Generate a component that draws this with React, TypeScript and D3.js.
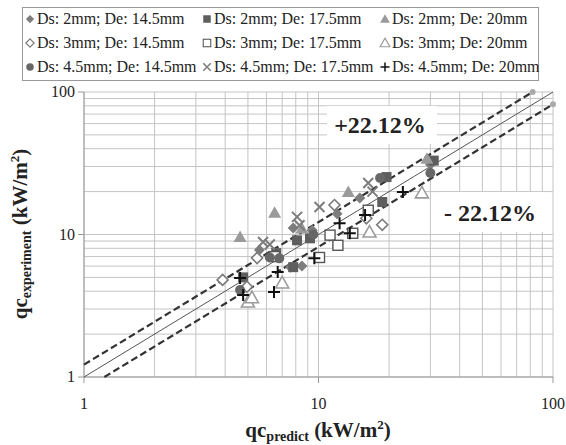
import React from "react";
import * as d3 from "d3";

// Ds / De combinations, [qc_predict, qc_experiment] in kW/m2
const seriesNames = [
	"Ds: 2mm; De: 14.5mm",
	"Ds: 2mm; De: 17.5mm",
	"Ds: 2mm; De: 20mm",
	"Ds: 3mm; De: 14.5mm",
	"Ds: 3mm; De: 17.5mm",
	"Ds: 3mm; De: 20mm",
	"Ds: 4.5mm; De: 14.5mm",
	"Ds: 4.5mm; De: 17.5mm",
	"Ds: 4.5mm; De: 20mm",
];

const ds2de145 = [[5.6, 7.8], [7.8, 11.1], [9.4, 10.7], [7.6, 5.9], [15, 18], [30, 31], [12, 14], [8.5, 6.0]];
const ds2de175 = [[4.77, 5.0], [6.6, 7.4], [7.8, 5.9], [8.1, 9.1], [9.2, 9.4], [18.7, 16.9], [19.5, 25.3], [31, 33]];
const ds2de20 = [[4.63, 9.6], [6.5, 14.2], [13.4, 19.9], [29, 34], [8.5, 11]];
const ds3de145 = [[3.9, 4.8], [4.95, 4.3], [5.47, 6.84], [11.7, 16.1], [18.7, 11.7], [16, 13]];
const ds3de175 = [[11.2, 9.9], [12.1, 8.4], [14, 10.2], [16.3, 14.8], [10.1, 6.9], [6.5, 7.0]];
const ds3de20 = [[5.0, 3.36], [7.0, 4.57], [16.5, 10.4], [27.6, 19.6], [5.2, 3.6]];
const ds45de145 = [[4.63, 4.08], [6.2, 6.9], [6.8, 6.8], [18.3, 24.9], [30, 27], [9.5, 10]];
const ds45de175 = [[5.8, 8.86], [8.1, 13.3], [8.3, 11.6], [10.1, 15.6], [16.3, 23], [17, 20], [6.2, 8.5]];
const ds45de20 = [[4.63, 4.95], [4.77, 3.76], [6.46, 3.95], [6.7, 5.46], [9.6, 6.8], [12.3, 12.0], [13.6, 10.2], [15.8, 13.7], [22.9, 19.9]];

const seriesData = [ds2de145, ds2de175, ds2de20, ds3de145, ds3de175, ds3de20, ds45de145, ds45de175, ds45de20];

const band = 0.2212;
const majorTicks = [1, 10, 100];

const W = 566, H = 445;
const x = d3.scaleLog().domain([1, 100]).range([84, 553]);
const y = d3.scaleLog().domain([1, 100]).range([377, 92]);

const css = `.ser { font-family: "Liberation Serif", "Times New Roman", Tinos, "Noto Serif", "DejaVu Serif", serif; }`;

// marker shape per series
function Marker({ i, cx, cy }: { i: number; cx: number; cy: number }) {
	switch (i) {
		case 0:
			return <path d={`M${cx},${cy - 5.5}L${cx + 5.5},${cy}L${cx},${cy + 5.5}L${cx - 5.5},${cy}Z`} fill="#7d7d7d" />;
		case 1:
			return <rect x={cx - 5} y={cy - 5} width={10} height={10} fill="#5e5e5e" />;
		case 2:
			return <path d={`M${cx},${cy - 6.5}L${cx + 6.5},${cy + 5}L${cx - 6.5},${cy + 5}Z`} fill="#9a9a9a" />;
		case 3:
			return <path d={`M${cx},${cy - 5.5}L${cx + 5.5},${cy}L${cx},${cy + 5.5}L${cx - 5.5},${cy}Z`} fill="#fff" stroke="#7a7a7a" strokeWidth={1.6} />;
		case 4:
			return <rect x={cx - 5} y={cy - 5} width={10} height={10} fill="#fff" stroke="#555" strokeWidth={1.4} />;
		case 5:
			return <path d={`M${cx},${cy - 6.5}L${cx + 6.5},${cy + 5}L${cx - 6.5},${cy + 5}Z`} fill="#fff" stroke="#9c9c9c" strokeWidth={1.6} />;
		case 6:
			return <circle cx={cx} cy={cy} r={5} fill="#676767" />;
		case 7:
			return <path d={`M${cx - 5},${cy - 5}L${cx + 5},${cy + 5}M${cx + 5},${cy - 5}L${cx - 5},${cy + 5}`} stroke="#7c7c7c" strokeWidth={2} />;
		default:
			return <path d={`M${cx - 6},${cy}L${cx + 6},${cy}M${cx},${cy - 6}L${cx},${cy + 6}`} stroke="#111" strokeWidth={2} />;
	}
}

export default function App() {
	const minor: number[] = [];
	for (const dec of [1, 10]) for (let k = 1; k <= 10; k++) minor.push(dec * k);
	const grid = Array.from(new Set(minor));

	const line = d3.line<number[]>().x((d) => x(d[0])).y((d) => y(d[1]));
	const ident = [[1, 1], [100, 100]];
	const upper = [[1, 1 + band], [100 / (1 + band), 100]];
	const lower = [[1 + band, 1], [100, 100 / (1 + band)]];

	const legendCols = [30, 207, 385];
	const legendRows = [19, 43, 67];

	return (
		<svg width={W} height={H} className="ser" style={{ position: "absolute", left: 0, top: 0, background: "#fff" }}>
			<style>{css}</style>
			<rect width={W} height={H} fill="#fff" />
			{/* grid */}
			{grid.map((v) => (
				<line key={"gx" + v} x1={x(v)} x2={x(v)} y1={y(1)} y2={y(100)} stroke="#c4c4c4" strokeWidth={1} />
			))}
			{grid.map((v) => (
				<line key={"gy" + v} y1={y(v)} y2={y(v)} x1={x(1)} x2={x(100)} stroke="#c4c4c4" strokeWidth={1} />
			))}
			{/* axes */}
			<line x1={x(1)} x2={x(1)} y1={y(1)} y2={y(100)} stroke="#999" />
			<line x1={x(1)} x2={x(100)} y1={y(1)} y2={y(1)} stroke="#999" />
			{majorTicks.map((v) => (
				<g key={"t" + v}>
					<line x1={x(1) - 6} x2={x(1)} y1={y(v)} y2={y(v)} stroke="#999" />
					<line x1={x(v)} x2={x(v)} y1={y(1)} y2={y(1) + 6} stroke="#999" />
					<text className="ser" x={x(1) - 9} y={y(v) + 5} fontSize={16} textAnchor="end" fill="#222">{v}</text>
					<text className="ser" x={x(v)} y={y(1) + 32} fontSize={16} textAnchor="middle" fill="#222">{v}</text>
				</g>
			))}
			{/* label boxes */}
			<rect x={327} y={106} width={110} height={38} fill="#fff" />
			<rect x={440} y={192} width={106} height={40} fill="#fff" />
			{/* reference lines */}
			<path d={line(ident) || ""} stroke="#555" strokeWidth={1} fill="none" />
			<path d={line(upper) || ""} stroke="#333" strokeWidth={2.2} strokeDasharray="7,3.5" fill="none" />
			<path d={line(lower) || ""} stroke="#333" strokeWidth={2.2} strokeDasharray="7,3.5" fill="none" />
			<circle cx={x(100 / (1 + band))} cy={y(100)} r={3} fill="#aaa" />
			<circle cx={x(100)} cy={y(100 / (1 + band))} r={3} fill="#aaa" />
			{/* points */}
			{seriesData.map((s, i) => (
				<g key={"s" + i}>
					{s.map((d, j) => (
						<Marker key={j} i={i} cx={x(d[0])} cy={y(d[1])} />
					))}
				</g>
			))}
			<text className="ser" x={380} y={133} fontSize={24} fontWeight="bold" textAnchor="middle" fill="#222">+22.12%</text>
			<text className="ser" x={490} y={221} fontSize={24} fontWeight="bold" textAnchor="middle" fill="#222">- 22.12%</text>
			{/* legend */}
			<rect x={22.5} y={7.5} width={516} height={73} fill="#fff" stroke="#999" />
			{seriesNames.map((n, i) => {
				const cx = legendCols[i % 3];
				const cy = legendRows[Math.floor(i / 3)];
				return (
					<g key={"l" + i}>
						<g transform={`translate(${cx},${cy}) scale(0.75) translate(${-cx},${-cy})`}>
							<Marker i={i} cx={cx} cy={cy} />
						</g>
						<text className="ser" x={cx + 7} y={cy + 5} fontSize={16} fill="#222">{n}</text>
					</g>
				);
			})}
			{/* axis titles */}
			<text className="ser" x={318} y={437} fontSize={21} fontWeight="bold" textAnchor="middle" fill="#222">
				qc<tspan fontSize={14} dy={4}>predict</tspan>
				<tspan dy={-4}> (kW/m</tspan>
				<tspan fontSize={13} dy={-8}>2</tspan>
				<tspan dy={8}>)</tspan>
			</text>
			<text className="ser" transform={`translate(27,234) rotate(-90)`} fontSize={21} fontWeight="bold" textAnchor="middle" fill="#222">
				qc<tspan fontSize={14} dy={4}>experiment</tspan>
				<tspan dy={-4}> (kW/m</tspan>
				<tspan fontSize={13} dy={-8}>2</tspan>
				<tspan dy={8}>)</tspan>
			</text>
		</svg>
	);
}
